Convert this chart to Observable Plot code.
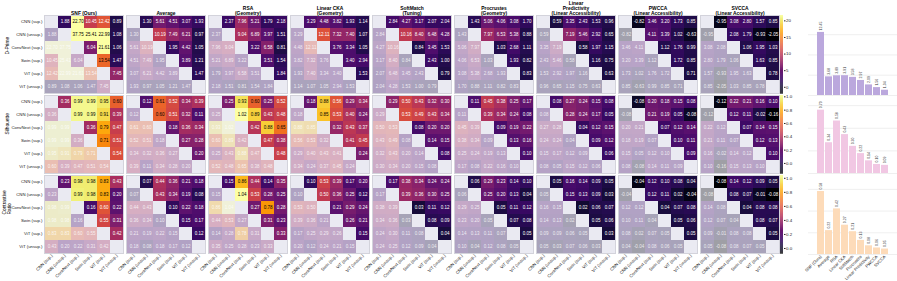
<!DOCTYPE html>
<html><head><meta charset="utf-8">
<script src="https://cdn.jsdelivr.net/npm/d3@7"></script>
<script src="https://cdn.jsdelivr.net/npm/@observablehq/plot@0.6"></script>
<style>
html,body{margin:0;padding:0;background:#fff;}
#root{position:relative;width:897px;height:281px;overflow:hidden;font-family:"Liberation Sans",Arial,sans-serif;}
#root > div{position:absolute;}
#root svg{overflow:visible;display:block;}
</style></head><body><div id="root"></div>
<script>
// ---------- data ----------
const models = ["CNN (sup.)","CNN (unsup.)","ConvNext (sup.)","Swin (sup.)","ViT (sup.)","ViT (unsup.)"];
const metrics = ["SNF (Ours)","Average","RSA","Linear CKA","SoftMatch","Procrustes","Linear Predictivity","PWCCA","SVCCA"];
const metricTitles = ["SNF (Ours)","Average","RSA\n(Geometry)","Linear CKA\n(Geometry)","SoftMatch\n(Tuning)","Procrustes\n(Geometry)","Linear\nPredictivity\n(Linear Accessibility)","PWCCA\n(Linear Accessibility)","SVCCA\n(Linear Accessibility)"];
const qualities = ["D-Prime","Silhouette","Contrastive\nRatio"];

// upper-triangle values, pair order (0,1)(0,2)(0,3)(0,4)(0,5)(1,2)(1,3)(1,4)(1,5)(2,3)(2,4)(2,5)(3,4)(3,5)(4,5)
const dprime = [
 [1.88,22.70,10.45,12.42,0.89, 37.75,25.41,22.99,1.08, 6.04,21.61,1.06, 13.54,1.47, 7.45],
 [1.30,5.61,4.51,3.07,1.93, 10.19,7.49,6.21,0.97, 1.95,4.42,1.05, 3.89,1.21, 1.47],
 [2.37,7.96,5.21,1.79,2.18, 9.04,6.89,3.97,1.51, 3.22,6.58,0.81, 3.51,1.54, 1.84],
 [3.29,4.48,3.82,1.93,1.14, 12.11,7.32,7.40,1.07, 3.76,3.34,1.05, 3.40,2.94, 1.53],
 [2.84,4.27,3.17,2.07,2.04, 10.16,8.40,6.48,4.28, 0.84,3.45,1.53, 2.43,1.00, 0.79],
 [1.43,5.06,4.06,3.08,1.70, 7.97,6.53,5.38,0.88, 1.03,2.68,1.11, 1.93,0.82, 0.83],
 [0.59,3.35,2.43,1.53,0.96, 7.19,5.46,2.92,0.65, 0.58,1.97,1.15, 1.16,0.75, 0.63],
 [-0.82,3.46,3.20,1.73,0.85, 4.11,3.39,1.02,-0.63, 1.12,1.76,0.99, 1.72,0.85, 0.71],
 [-0.95,3.08,2.80,1.57,0.85, 2.08,1.79,-0.93,-2.05, 1.06,1.95,1.03, 1.63,0.85, 0.78]
];
const silhouette = [
 [0.36,0.99,0.99,0.95,0.60, 0.99,0.99,0.91,0.39, 0.36,0.79,0.47, 0.71,0.51, 0.54],
 [0.12,0.61,0.52,0.34,0.39, 0.60,0.51,0.32,0.11, 0.18,0.36,0.34, 0.27,0.28, 0.20],
 [0.25,0.93,0.60,0.25,0.52, 1.02,0.89,0.43,0.48, 0.42,0.88,0.65, 0.47,0.38, 0.48],
 [0.18,0.88,0.56,0.29,0.34, 0.85,0.53,0.40,0.24, 0.32,0.43,0.37, 0.41,0.45, 0.24],
 [0.29,0.50,0.43,0.32,0.30, 0.53,0.49,0.43,0.34, 0.08,0.20,0.20, 0.14,0.15, 0.08],
 [0.11,0.45,0.38,0.25,0.17, 0.39,0.34,0.24,0.08, 0.09,0.19,0.22, 0.13,0.16, 0.10],
 [0.08,0.27,0.24,0.15,0.08, 0.28,0.24,0.17,0.05, 0.04,0.12,0.15, 0.09,0.12, 0.06],
 [-0.08,0.20,0.18,0.15,0.08, 0.21,0.19,0.05,-0.08, 0.07,0.12,0.14, 0.10,0.11, 0.09],
 [-0.12,0.22,0.21,0.16,0.10, 0.12,0.11,-0.02,-0.16, 0.07,0.14,0.15, 0.12,0.13, 0.10]
];
const contrastive = [
 [0.23,0.98,0.98,0.83,0.43, 0.99,0.98,0.83,0.20, 0.16,0.60,0.22, 0.55,0.31, 0.42],
 [0.07,0.44,0.36,0.21,0.18, 0.43,0.34,0.19,0.08, 0.10,0.22,0.18, 0.15,0.17, 0.12],
 [0.15,0.86,0.44,0.14,0.35, 1.04,0.53,0.28,0.25, 0.27,0.78,0.28, 0.31,0.23, 0.33],
 [0.10,0.53,0.39,0.17,0.20, 0.50,0.36,0.25,0.12, 0.21,0.29,0.24, 0.26,0.21, 0.15],
 [0.17,0.38,0.34,0.24,0.24, 0.39,0.36,0.30,0.25, 0.03,0.11,0.12, 0.08,0.09, 0.04],
 [0.06,0.29,0.23,0.14,0.10, 0.25,0.20,0.13,0.04, 0.05,0.11,0.12, 0.07,0.08, 0.05],
 [0.05,0.16,0.14,0.09,0.05, 0.15,0.13,0.09,0.03, 0.02,0.06,0.07, 0.05,0.06, 0.03],
 [-0.04,0.12,0.10,0.08,0.04, 0.12,0.11,0.02,-0.04, 0.04,0.07,0.08, 0.05,0.06, 0.05],
 [-0.08,0.14,0.12,0.09,0.05, 0.08,0.07,-0.01,-0.08, 0.04,0.08,0.08, 0.08,0.07, 0.05]
];

// bar charts (mean per metric)
const dprimeMean      = [12.45, 3.68, 3.89, 3.91, 3.58, 2.97, 2.09, 1.56, 1.04];
const silhouetteMean  = [0.70, 0.34, 0.58, 0.43, 0.30, 0.22, 0.14, 0.10, 0.09];
const contrastiveMean = [0.58, 0.22, 0.42, 0.27, 0.21, 0.13, 0.08, 0.06, 0.05];

// colour-bar ranges and ticks
const colorDomains = [[-2.05, 21.61], [-0.16, 1.02], [-0.08, 1.04]];
const colorTicks = [[0,5,10,15,20], [0,0.2,0.4,0.6,0.8,1.0], [0,0.2,0.4,0.6,0.8,1.0]];
const barColors = ["#bba8dd", "#f1c7e3", "#fddbb9"];
const barMax = [15, 0.84, 0.70];
const barGrid = [[0,4,8,12],[0,0.25,0.5,0.75],[0,0.2,0.4,0.6]];

// ---------- build tables ----------
const matrices = [dprime, silhouette, contrastive];
const upper = [], lower = [], diag = [];
matrices.forEach((mat, q) => {
  const [lo, hi] = colorDomains[q];
  mat.forEach((vals, m) => {
    let k = 0;
    for (let i = 0; i < models.length; i++) for (let j = i + 1; j < models.length; j++) {
      const v = vals[k++];
      const t = Math.max(0, Math.min(1, (v - lo) / (hi - lo)));
      const base = {quality: qualities[q], metric: metrics[m], v, t};
      upper.push({...base, row: models[i], col: models[j]});
      lower.push({...base, row: models[j], col: models[i]});
    }
    models.forEach(md => diag.push({quality: qualities[q], metric: metrics[m], row: md, col: md}));
  });
});

const FONT = "Liberation Sans, Arial, sans-serif";
const root = document.getElementById("root");
function place(el, left, top) {
  const d = document.createElement("div");
  d.style.left = left + "px"; d.style.top = top + "px";
  d.appendChild(el); root.appendChild(d);
}

// ---------- heatmaps ----------
const heatTop = 15, heatBottom = 254, heatLeft = 43, heatRight = 780;
const enc = {x: "col", y: "row", fx: "metric", fy: "quality"};
const TH = 0.62;
const heat = Plot.plot({
  width: 897, height: 281,
  marginLeft: heatLeft, marginRight: 897 - heatRight, marginTop: heatTop, marginBottom: 281 - heatBottom,
  style: {fontFamily: FONT, fontSize: "4.3px", background: "transparent", color: "#222"},
  fx: {domain: metrics, paddingInner: 0.04, paddingOuter: 0, axis: null},
  fy: {domain: qualities, paddingInner: 0.02, paddingOuter: 0, axis: null},
  x: {domain: models, padding: 0, tickRotate: -45, tickSize: 0, tickPadding: 1.5, label: null},
  y: {domain: models, padding: 0, tickSize: 0, tickPadding: 2, label: null},
  color: {type: "linear", scheme: "inferno", domain: [0, 1]},
  marks: [
    Plot.frame({fill: "#eaeaf2"}),
    Plot.cell(lower, {...enc, fill: "t", fillOpacity: 0.32, inset: 0}),
    Plot.cell(upper, {...enc, fill: "t", inset: 0}),
    Plot.cell(diag, {...enc, fill: "#eaeaf2", inset: 0}),
    Plot.text(upper.filter(d => d.t > TH), {...enc, text: d => d.v.toFixed(2), fill: "black", fontSize: 4.5}),
    Plot.text(upper.filter(d => d.t <= TH), {...enc, text: d => d.v.toFixed(2), fill: "white", fontSize: 4.5}),
    Plot.text(lower, {...enc, text: d => d.v.toFixed(2), fill: "white", fillOpacity: 0.8, fontSize: 4.5}),
    Plot.frame({stroke: "#d3d3db", strokeWidth: 1}),
    Plot.text(metrics, {fx: d => d, fy: () => qualities[0], text: (d, i) => metricTitles[i],
      frameAnchor: "top", dy: -0.3, lineAnchor: "bottom", lineHeight: 1.0, fontWeight: "bold", fontSize: 4.9, fill: "black"}),
    Plot.text(qualities, {fx: () => metrics[0], fy: d => d, text: d => d, frameAnchor: "left",
      dx: -37.5, rotate: -90, lineHeight: 1.0, fontSize: 4.8, fill: "black"})
  ]
});
place(heat, 0, 0);

// band layout for rows (matches fy scale)
const fyBand = d3.scaleBand(qualities, [heatTop, heatBottom]).paddingInner(0.02).paddingOuter(0);

// ---------- colour bars ----------
colorDomains.forEach(([lo, hi], q) => {
  const n = 80, step = (hi - lo) / n;
  const slices = d3.range(n).map(i => lo + i * step);
  const cb = Plot.plot({
    width: 21, height: fyBand.bandwidth(),
    marginLeft: 1, marginRight: 17, marginTop: 0, marginBottom: 0,
    style: {fontFamily: FONT, fontSize: "4.4px", background: "transparent", color: "#222"},
    x: {domain: [0, 1], axis: null},
    y: {domain: [lo, hi], axis: "right", ticks: colorTicks[q], tickFormat: q === 0 ? "d" : ".1f", tickSize: 1.5, tickPadding: 1, label: null},
    color: {type: "linear", scheme: "inferno", domain: [lo, hi]},
    marks: [
      Plot.rect(slices, {x1: 0, x2: 1, y1: d => d, y2: d => d + step * 1.02, fill: d => d + step / 2})
    ]
  });
  place(cb, 779, fyBand(qualities[q]));
});

// ---------- bar charts ----------
const barMeans = [dprimeMean, silhouetteMean, contrastiveMean];
const barBoxes = [
  {top: 15, height: 80, mt: 4, mb: 0},
  {top: 95, height: 78, mt: 2, mb: 0},
  {top: 175, height: 106, mt: 3, mb: 27}
];
barMeans.forEach((vals, q) => {
  const data = metrics.map((m, i) => ({metric: m, value: vals[i]}));
  const b = barBoxes[q];
  const bp = Plot.plot({
    width: 89, height: b.height,
    marginLeft: 0, marginRight: 0, marginTop: b.mt, marginBottom: b.mb,
    style: {fontFamily: FONT, fontSize: "4.2px", background: "transparent", color: "#222"},
    x: {domain: metrics, paddingInner: 0.1, paddingOuter: 0.55, axis: q === 2 ? "bottom" : null,
        tickRotate: -45, tickSize: 0, tickPadding: 1.5, label: null},
    y: {domain: [0, barMax[q]], axis: null},
    marks: [
      Plot.ruleY(barGrid[q], {stroke: "#ebebeb", strokeWidth: 0.8}),
      Plot.barY(data, {x: "metric", y: "value", fill: barColors[q], inset: 0}),
      Plot.text(data, {x: "metric", y: "value", text: d => d.value.toFixed(2), rotate: -90,
        textAnchor: "start", dy: -2, fontSize: 3.5, fill: "#333"})
    ]
  });
  place(bp, 808, b.top);
});
</script>
</body></html>
